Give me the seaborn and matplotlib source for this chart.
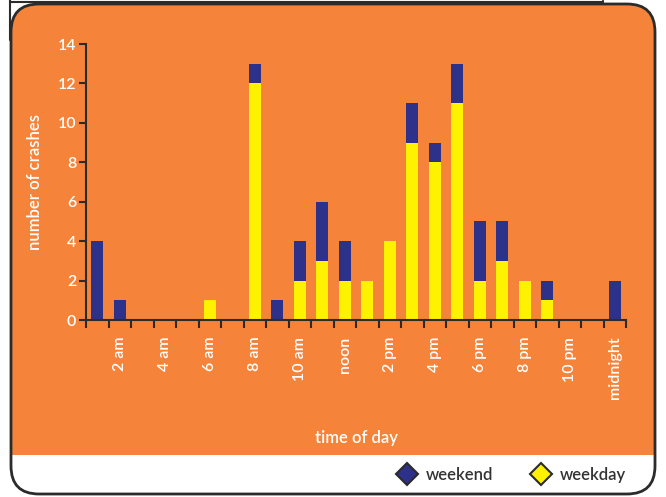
import matplotlib
matplotlib.use("Agg")
import matplotlib.pyplot as plt
import seaborn as sns
import pandas as pd
from matplotlib.patches import FancyBboxPatch, Rectangle
from matplotlib.lines import Line2D

# Data: crashes by hour of day (1 = 1 am ... 24 = midnight)
hours = list(range(1, 25))
weekday = [0, 0, 0, 0, 0, 1, 0, 12, 0, 2, 3, 2, 2, 4, 9, 8, 11, 2, 3, 2, 1, 0, 0, 0]
weekend = [4, 1, 0, 0, 0, 0, 0, 1, 1, 2, 3, 2, 0, 0, 2, 1, 2, 3, 2, 0, 1, 0, 0, 2]
tick_labels = ["2 am", "4 am", "6 am", "8 am", "10 am", "noon",
               "2 pm", "4 pm", "6 pm", "8 pm", "10 pm", "midnight"]

ORANGE = "#F5833A"
NAVY = "#2E318A"
YELLOW = "#FFF200"
EDGE = "#2b2b2b"

df = pd.DataFrame({"hour": hours, "weekday": weekday, "weekend": weekend})
df["total"] = df["weekday"] + df["weekend"]

sns.set_style("white")
plt.rcParams["font.family"] = ["Lato", "DejaVu Sans"]

fig = plt.figure(figsize=(6.66, 4.97), dpi=100)
fig.patch.set_facecolor("white")

# Background panel in pixel coordinates
bg = fig.add_axes([0, 0, 1, 1], zorder=-5)
bg.set_xlim(0, 666)
bg.set_ylim(497, 0)
bg.axis("off")

panel = FancyBboxPatch((11, 4), 644, 490, boxstyle="round,pad=0,rounding_size=28",
                       facecolor=ORANGE, edgecolor="none")
bg.add_patch(panel)
white = Rectangle((0, 455), 666, 42, facecolor="white", edgecolor="none")
bg.add_patch(white)
white.set_clip_path(panel)
border = FancyBboxPatch((11, 4), 644, 490, boxstyle="round,pad=0,rounding_size=28",
                        facecolor="none", edgecolor=EDGE, linewidth=2)
bg.add_patch(border)
bg.plot([9.5, 9.5], [0, 40], color=EDGE, lw=1.5)
bg.plot([9.5, 603], [2, 2], color=EDGE, lw=1.5)
bg.plot([603, 603], [0, 4], color=EDGE, lw=1.2)

# Main chart
ax = fig.add_axes([86 / 666, 1 - 320 / 497, 540 / 666, 276 / 497])
ax.patch.set_alpha(0)

sns.barplot(data=df, x="hour", y="total", color=NAVY, width=0.53,
            saturation=1, linewidth=0, ax=ax)
sns.barplot(data=df, x="hour", y="weekday", color=YELLOW, width=0.53,
            saturation=1, linewidth=0, ax=ax)

ax.set_xlim(-0.5, 23.5)
ax.set_ylim(0, 14)
ax.set_yticks(range(0, 15, 2))
ax.set_xticks([h - 1 for h in range(2, 25, 2)])
ax.set_xticklabels(tick_labels, rotation=90)
ax.set_xticks([i - 0.5 for i in range(25)], minor=True)

for side in ["top", "right"]:
    ax.spines[side].set_visible(False)
for side in ["left", "bottom"]:
    ax.spines[side].set_color(EDGE)
    ax.spines[side].set_linewidth(1.5)

ax.tick_params(axis="x", which="major", length=0, pad=12, labelsize=11.5, labelcolor="white")
ax.tick_params(axis="x", which="minor", length=6, width=1.5, color=EDGE, direction="out", bottom=True)
ax.tick_params(axis="y", length=5, width=1.5, color=EDGE, left=True, pad=2,
               labelsize=11.5, labelcolor="white")
for lab in ax.get_xticklabels() + ax.get_yticklabels():
    lab.set_fontweight("semibold")

ax.set_xlabel("time of day", color="white", fontsize=12, fontweight="semibold")
ax.set_ylabel("number of crashes", color="white", fontsize=12, fontweight="semibold")
ax.xaxis.set_label_coords(0.5, -0.40)
ax.yaxis.set_label_coords(-0.08, 0.5)

# Legend
handles = [
    Line2D([], [], marker="D", linestyle="none", markersize=11,
           markerfacecolor=NAVY, markeredgecolor=EDGE, markeredgewidth=1.5, label="weekend"),
    Line2D([], [], marker="D", linestyle="none", markersize=11,
           markerfacecolor=YELLOW, markeredgecolor=EDGE, markeredgewidth=1.5, label="weekday"),
]
leg = fig.legend(handles=handles, loc="center", bbox_to_anchor=(508 / 666, 1 - 475 / 497),
                 ncol=2, frameon=False, handletextpad=0.1, columnspacing=1.9,
                 labelcolor="#333333", prop={"weight": "semibold", "size": 12})

fig.savefig("out.png", dpi=100, facecolor="white")
